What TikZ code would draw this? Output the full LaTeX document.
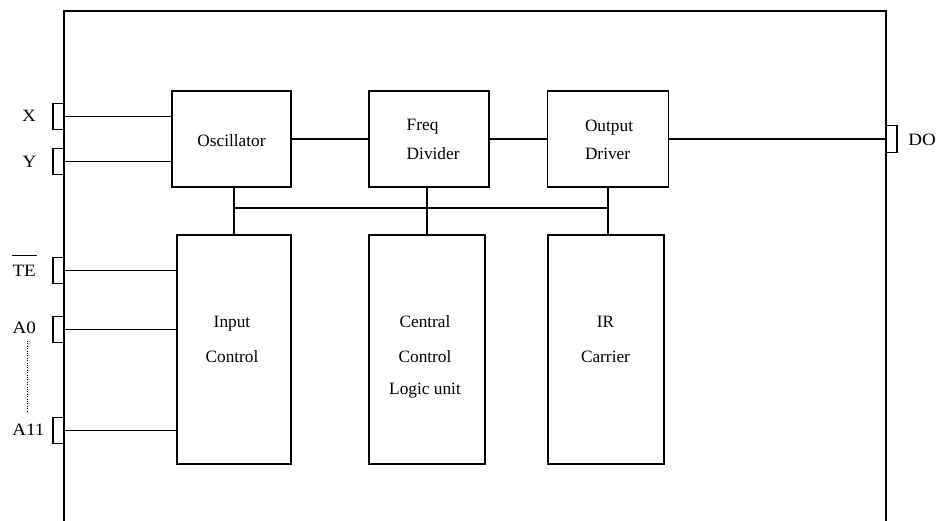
\documentclass[tikz,border=0pt]{standalone}
\usepackage{fontspec}
\setmainfont{Liberation Serif}
\begin{document}
\begin{tikzpicture}[x=1pt,y=-1pt,line width=1.4pt,
  box/.style={draw, rectangle, inner sep=0pt, outer sep=0pt},
  pinbox/.style={draw, rectangle, inner sep=0pt, outer sep=0pt, minimum width=11pt, minimum height=26pt},
  txt/.style={font=\fontsize{17.3}{20}\selectfont, inner sep=0pt, outer sep=0pt},
  pintxt/.style={font=\fontsize{17.3}{20}\selectfont, inner sep=0pt, outer sep=0pt, xscale=1.1},
  wire/.style={line width=1.4pt}]
\useasboundingbox (0,0) rectangle (938,521);
% frame
\coordinate (fTL) at (64,11);
\coordinate (fTR) at (886,11);
\coordinate (fBL) at (64,521);
\coordinate (fBR) at (886,521);
\draw[wire] (fBL) -- (fTL) -- (fTR) -- (fBR);
% blocks
\node[box, minimum width=119pt, minimum height=96pt] (osc) at (231.5,139) {};
\node[box, minimum width=120pt, minimum height=96pt] (fd) at (429,139) {};
\node[box, minimum width=120.5pt, minimum height=96pt] (od) at (608,139) {};
\node[box, minimum width=114pt, minimum height=229pt] (ic) at (234,349.5) {};
\node[box, minimum width=116pt, minimum height=229pt] (cc) at (427,349.5) {};
\node[box, minimum width=116pt, minimum height=229pt] (ir) at (606,349.5) {};
% pins
\node[pinbox] (pX) at (58.5,116.5) {};
\node[pinbox] (pY) at (58.5,161.5) {};
\node[pinbox] (pTE) at (58.5,270.5) {};
\node[pinbox] (pA0) at (58.5,329.5) {};
\node[pinbox] (pA11) at (58.5,430.5) {};
\node[pinbox, minimum height=27pt] (pDO) at (891.5,139) {};
% wires
\draw[wire] (pX.east) -- (pX.east -| osc.west);
\draw[wire] (pY.east) -- (pY.east -| osc.west);
\draw[wire] (pTE.east) -- (pTE.east -| ic.west);
\draw[wire] (pA0.east) -- (pA0.east -| ic.west);
\draw[wire] (pA11.east) -- (pA11.east -| ic.west);
\draw[wire] (osc.east) -- (fd.west);
\draw[wire] (fd.east) -- (od.west);
\draw[wire] (od.east) -- (pDO.west);
\coordinate (bus) at (0,208);
\draw[wire] (ic.north) -- (ic.north |- osc.south);
\draw[wire] (cc.north) -- (cc.north |- fd.south);
\draw[wire] (od.south) -- (od.south |- ir.north);
\draw[wire] (ic.north |- bus) -- (od.south |- bus);
% texts
\node[txt, anchor=base] (tosc) at (231.5,146.5) {Oscillator};
\node[txt, anchor=base west] (tfd1) at (406.7,131) {Freq};
\node[txt, anchor=base west] (tfd2) at (406.7,160) {Divider};
\node[txt, anchor=base west] (tod1) at (585,131.5) {Output};
\node[txt, anchor=base west] (tod2) at (585,160) {Driver};
\node[txt, anchor=base] (tic1) at (232,328) {Input};
\node[txt, anchor=base] (tic2) at (232,363) {Control};
\node[txt, anchor=base] (tcc1) at (425,328) {Central};
\node[txt, anchor=base] (tcc2) at (425,363) {Control};
\node[txt, anchor=base] (tcc3) at (425,395) {Logic unit};
\node[txt, anchor=base] (tir1) at (605.5,328) {IR};
\node[txt, anchor=base] (tir2) at (605.5,363) {Carrier};
% pin labels
\node[pintxt, anchor=base] (lX) at (29,122) {X};
\node[pintxt, anchor=base] (lY) at (29.5,167.5) {Y};
\node[pintxt, anchor=base] (lTE) at (24.2,276.7) {TE};
\draw[line width=1.2pt] ([xshift=-1pt,yshift=9.5pt]lTE.north west) -- ([xshift=1pt,yshift=9.5pt]lTE.north east);
\node[pintxt, anchor=base] (lA0) at (24.2,333.3) {A0};
\node[pintxt, anchor=base] (lA11) at (28.3,435.3) {A11};
\node[pintxt, anchor=base] (lDO) at (922,146) {DO};
\coordinate (d1) at (27.3,341);
\coordinate (d2) at (27.3,413);
\draw[line width=1.2pt, dash pattern=on 1pt off 1.4pt] (d1) -- (d2);
\end{tikzpicture}
\end{document}
